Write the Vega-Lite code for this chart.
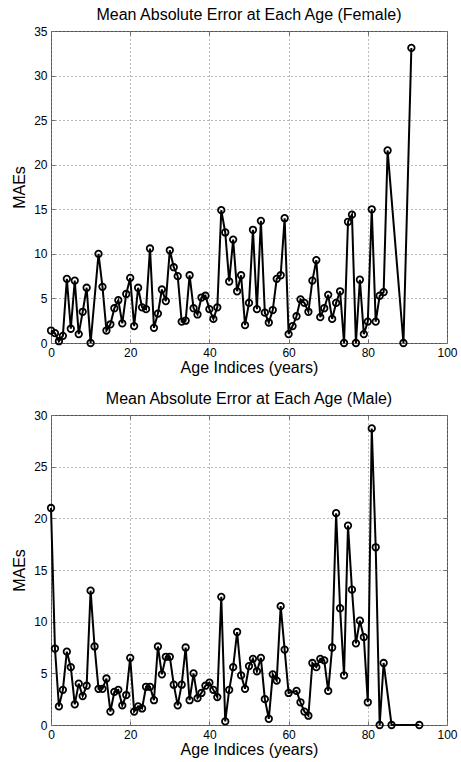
{
  "$schema": "https://vega.github.io/schema/vega-lite/v6.json",
  "padding": {"left": 11, "top": 6, "right": 0, "bottom": 0},
  "background": "white",
  "spacing": 14,
  "datasets": {
    "female": [
      {"age": 0, "mae": 1.4}, {"age": 1, "mae": 1.1}, {"age": 2, "mae": 0.2}, {"age": 3, "mae": 0.8},
      {"age": 4, "mae": 7.2}, {"age": 5, "mae": 1.6}, {"age": 6, "mae": 7.0}, {"age": 7, "mae": 1.0},
      {"age": 8, "mae": 3.5}, {"age": 9, "mae": 6.2}, {"age": 10, "mae": 0.0}, {"age": 12, "mae": 10.0},
      {"age": 13, "mae": 6.3}, {"age": 14, "mae": 1.4}, {"age": 15, "mae": 2.1}, {"age": 16, "mae": 3.9},
      {"age": 17, "mae": 4.8}, {"age": 18, "mae": 2.2}, {"age": 19, "mae": 5.5}, {"age": 20, "mae": 7.3},
      {"age": 21, "mae": 1.9}, {"age": 22, "mae": 6.2}, {"age": 23, "mae": 4.0}, {"age": 24, "mae": 3.8},
      {"age": 25, "mae": 10.6}, {"age": 26, "mae": 1.7}, {"age": 27, "mae": 3.3}, {"age": 28, "mae": 6.0},
      {"age": 29, "mae": 4.7}, {"age": 30, "mae": 10.4}, {"age": 31, "mae": 8.5}, {"age": 32, "mae": 7.5},
      {"age": 33, "mae": 2.4}, {"age": 34, "mae": 2.5}, {"age": 35, "mae": 7.6}, {"age": 36, "mae": 3.9},
      {"age": 37, "mae": 3.2}, {"age": 38, "mae": 5.1}, {"age": 39, "mae": 5.3}, {"age": 40, "mae": 3.8},
      {"age": 41, "mae": 2.7}, {"age": 42, "mae": 4.0}, {"age": 43, "mae": 14.9}, {"age": 44, "mae": 12.4},
      {"age": 45, "mae": 6.9}, {"age": 46, "mae": 11.6}, {"age": 47, "mae": 5.8}, {"age": 48, "mae": 7.6},
      {"age": 49, "mae": 2.0}, {"age": 50, "mae": 4.5}, {"age": 51, "mae": 12.7}, {"age": 52, "mae": 3.8},
      {"age": 53, "mae": 13.7}, {"age": 54, "mae": 3.4}, {"age": 55, "mae": 2.3}, {"age": 56, "mae": 3.7},
      {"age": 57, "mae": 7.2}, {"age": 58, "mae": 7.6}, {"age": 59, "mae": 14.0}, {"age": 60, "mae": 1.0},
      {"age": 61, "mae": 1.9}, {"age": 62, "mae": 3.0}, {"age": 63, "mae": 4.9}, {"age": 64, "mae": 4.5},
      {"age": 65, "mae": 3.5}, {"age": 66, "mae": 7.0}, {"age": 67, "mae": 9.3}, {"age": 68, "mae": 2.9},
      {"age": 69, "mae": 3.9}, {"age": 70, "mae": 5.4}, {"age": 71, "mae": 2.7}, {"age": 72, "mae": 4.5},
      {"age": 73, "mae": 5.8}, {"age": 74, "mae": 0.0}, {"age": 75, "mae": 13.6}, {"age": 76, "mae": 14.4},
      {"age": 77, "mae": 0.0}, {"age": 78, "mae": 7.1}, {"age": 79, "mae": 1.0}, {"age": 80, "mae": 2.4},
      {"age": 81, "mae": 15.0}, {"age": 82, "mae": 2.4}, {"age": 83, "mae": 5.3}, {"age": 84, "mae": 5.7},
      {"age": 85, "mae": 21.6}, {"age": 89, "mae": 0.0}, {"age": 91, "mae": 33.1}
    ],
    "male": [
      {"age": 0, "mae": 21.0}, {"age": 1, "mae": 7.4}, {"age": 2, "mae": 1.8}, {"age": 3, "mae": 3.4},
      {"age": 4, "mae": 7.1}, {"age": 5, "mae": 5.6}, {"age": 6, "mae": 2.0}, {"age": 7, "mae": 4.0},
      {"age": 8, "mae": 2.8}, {"age": 9, "mae": 3.8}, {"age": 10, "mae": 13.0}, {"age": 11, "mae": 7.6},
      {"age": 12, "mae": 3.5}, {"age": 13, "mae": 3.5}, {"age": 14, "mae": 4.5}, {"age": 15, "mae": 1.3},
      {"age": 16, "mae": 3.2}, {"age": 17, "mae": 3.4}, {"age": 18, "mae": 1.9}, {"age": 19, "mae": 2.9},
      {"age": 20, "mae": 6.5}, {"age": 21, "mae": 1.3}, {"age": 22, "mae": 1.8}, {"age": 23, "mae": 1.6},
      {"age": 24, "mae": 3.7}, {"age": 25, "mae": 3.7}, {"age": 26, "mae": 2.4}, {"age": 27, "mae": 7.6},
      {"age": 28, "mae": 4.9}, {"age": 29, "mae": 6.6}, {"age": 30, "mae": 6.6}, {"age": 31, "mae": 3.9},
      {"age": 32, "mae": 1.9}, {"age": 33, "mae": 3.9}, {"age": 34, "mae": 7.5}, {"age": 35, "mae": 2.4},
      {"age": 36, "mae": 5.0}, {"age": 37, "mae": 2.6}, {"age": 38, "mae": 3.1}, {"age": 39, "mae": 3.8},
      {"age": 40, "mae": 4.1}, {"age": 41, "mae": 3.4}, {"age": 42, "mae": 2.7}, {"age": 43, "mae": 12.4},
      {"age": 44, "mae": 0.35}, {"age": 45, "mae": 3.4}, {"age": 46, "mae": 5.6}, {"age": 47, "mae": 9.0},
      {"age": 48, "mae": 4.8}, {"age": 49, "mae": 3.5}, {"age": 50, "mae": 5.7}, {"age": 51, "mae": 6.4},
      {"age": 52, "mae": 5.2}, {"age": 53, "mae": 6.5}, {"age": 54, "mae": 2.5}, {"age": 55, "mae": 0.6},
      {"age": 56, "mae": 4.9}, {"age": 57, "mae": 4.3}, {"age": 58, "mae": 11.5}, {"age": 59, "mae": 7.3},
      {"age": 60, "mae": 3.1}, {"age": 62, "mae": 3.3}, {"age": 63, "mae": 2.2}, {"age": 64, "mae": 1.3},
      {"age": 65, "mae": 0.9}, {"age": 66, "mae": 6.0}, {"age": 67, "mae": 5.6}, {"age": 68, "mae": 6.4},
      {"age": 69, "mae": 6.25}, {"age": 70, "mae": 3.3}, {"age": 71, "mae": 7.5}, {"age": 72, "mae": 20.5},
      {"age": 73, "mae": 11.3}, {"age": 74, "mae": 4.8}, {"age": 75, "mae": 19.3}, {"age": 76, "mae": 13.1},
      {"age": 77, "mae": 7.9}, {"age": 78, "mae": 10.1}, {"age": 79, "mae": 8.5}, {"age": 80, "mae": 2.2},
      {"age": 81, "mae": 28.7}, {"age": 82, "mae": 17.2}, {"age": 83, "mae": 0.0}, {"age": 84, "mae": 6.0},
      {"age": 86, "mae": 0.0}, {"age": 93, "mae": 0.0}
    ]
  },
  "vconcat": [
    {
      "title": "Mean Absolute Error at Each Age (Female)",
      "width": 396,
      "height": 312,
      "data": {"name": "female"},
      "resolve": {"axis": {"x": "independent", "y": "independent"}},
      "layer": [
        {
          "mark": {"type": "line", "color": "black", "strokeWidth": 2},
          "encoding": {
            "x": {"field": "age", "type": "quantitative", "scale": {"domain": [0, 100], "nice": false},
                  "axis": {"title": "Age Indices (years)", "values": [0, 20, 40, 60, 80, 100]}},
            "y": {"field": "mae", "type": "quantitative", "scale": {"domain": [0, 35], "nice": false},
                  "axis": {"title": "MAEs", "values": [0, 5, 10, 15, 20, 25, 30, 35]}}
          }
        },
        {
          "mark": {"type": "point", "shape": "circle", "filled": false, "color": "black", "size": 42, "strokeWidth": 1.8, "opacity": 1},
          "encoding": {
            "x": {"field": "age", "type": "quantitative",
                  "axis": {"orient": "top", "title": null, "labels": false, "grid": false, "values": [0, 20, 40, 60, 80, 100]}},
            "y": {"field": "mae", "type": "quantitative",
                  "axis": {"orient": "right", "title": null, "labels": false, "grid": false, "values": [0, 5, 10, 15, 20, 25, 30, 35]}}
          }
        }
      ]
    },
    {
      "title": "Mean Absolute Error at Each Age (Male)",
      "width": 396,
      "height": 310,
      "data": {"name": "male"},
      "resolve": {"axis": {"x": "independent", "y": "independent"}},
      "layer": [
        {
          "mark": {"type": "line", "color": "black", "strokeWidth": 2},
          "encoding": {
            "x": {"field": "age", "type": "quantitative", "scale": {"domain": [0, 100], "nice": false},
                  "axis": {"title": "Age Indices (years)", "values": [0, 20, 40, 60, 80, 100]}},
            "y": {"field": "mae", "type": "quantitative", "scale": {"domain": [0, 30], "nice": false},
                  "axis": {"title": "MAEs", "values": [0, 5, 10, 15, 20, 25, 30]}}
          }
        },
        {
          "mark": {"type": "point", "shape": "circle", "filled": false, "color": "black", "size": 42, "strokeWidth": 1.8, "opacity": 1},
          "encoding": {
            "x": {"field": "age", "type": "quantitative",
                  "axis": {"orient": "top", "title": null, "labels": false, "grid": false, "values": [0, 20, 40, 60, 80, 100]}},
            "y": {"field": "mae", "type": "quantitative",
                  "axis": {"orient": "right", "title": null, "labels": false, "grid": false, "values": [0, 5, 10, 15, 20, 25, 30]}}
          }
        }
      ]
    }
  ],
  "config": {
    "font": "Liberation Sans",
    "view": {"stroke": "#707070", "strokeWidth": 1},
    "title": {"fontSize": 16, "fontWeight": "normal", "color": "black", "offset": 2},
    "axis": {
      "labelFontSize": 12, "labelColor": "black", "labelPadding": 8,
      "titleFontSize": 16, "titleFontWeight": "normal", "titleColor": "black",
      "domain": false, "tickSize": -4, "tickColor": "#707070",
      "grid": true, "gridColor": "#000000", "gridOpacity": 0.55, "gridDash": [1, 3], "gridWidth": 1,
      "labelFlush": false, "labelOverlap": false
    },
    "axisX": {"titlePadding": 1},
    "axisY": {"titlePadding": 6}
  }
}
